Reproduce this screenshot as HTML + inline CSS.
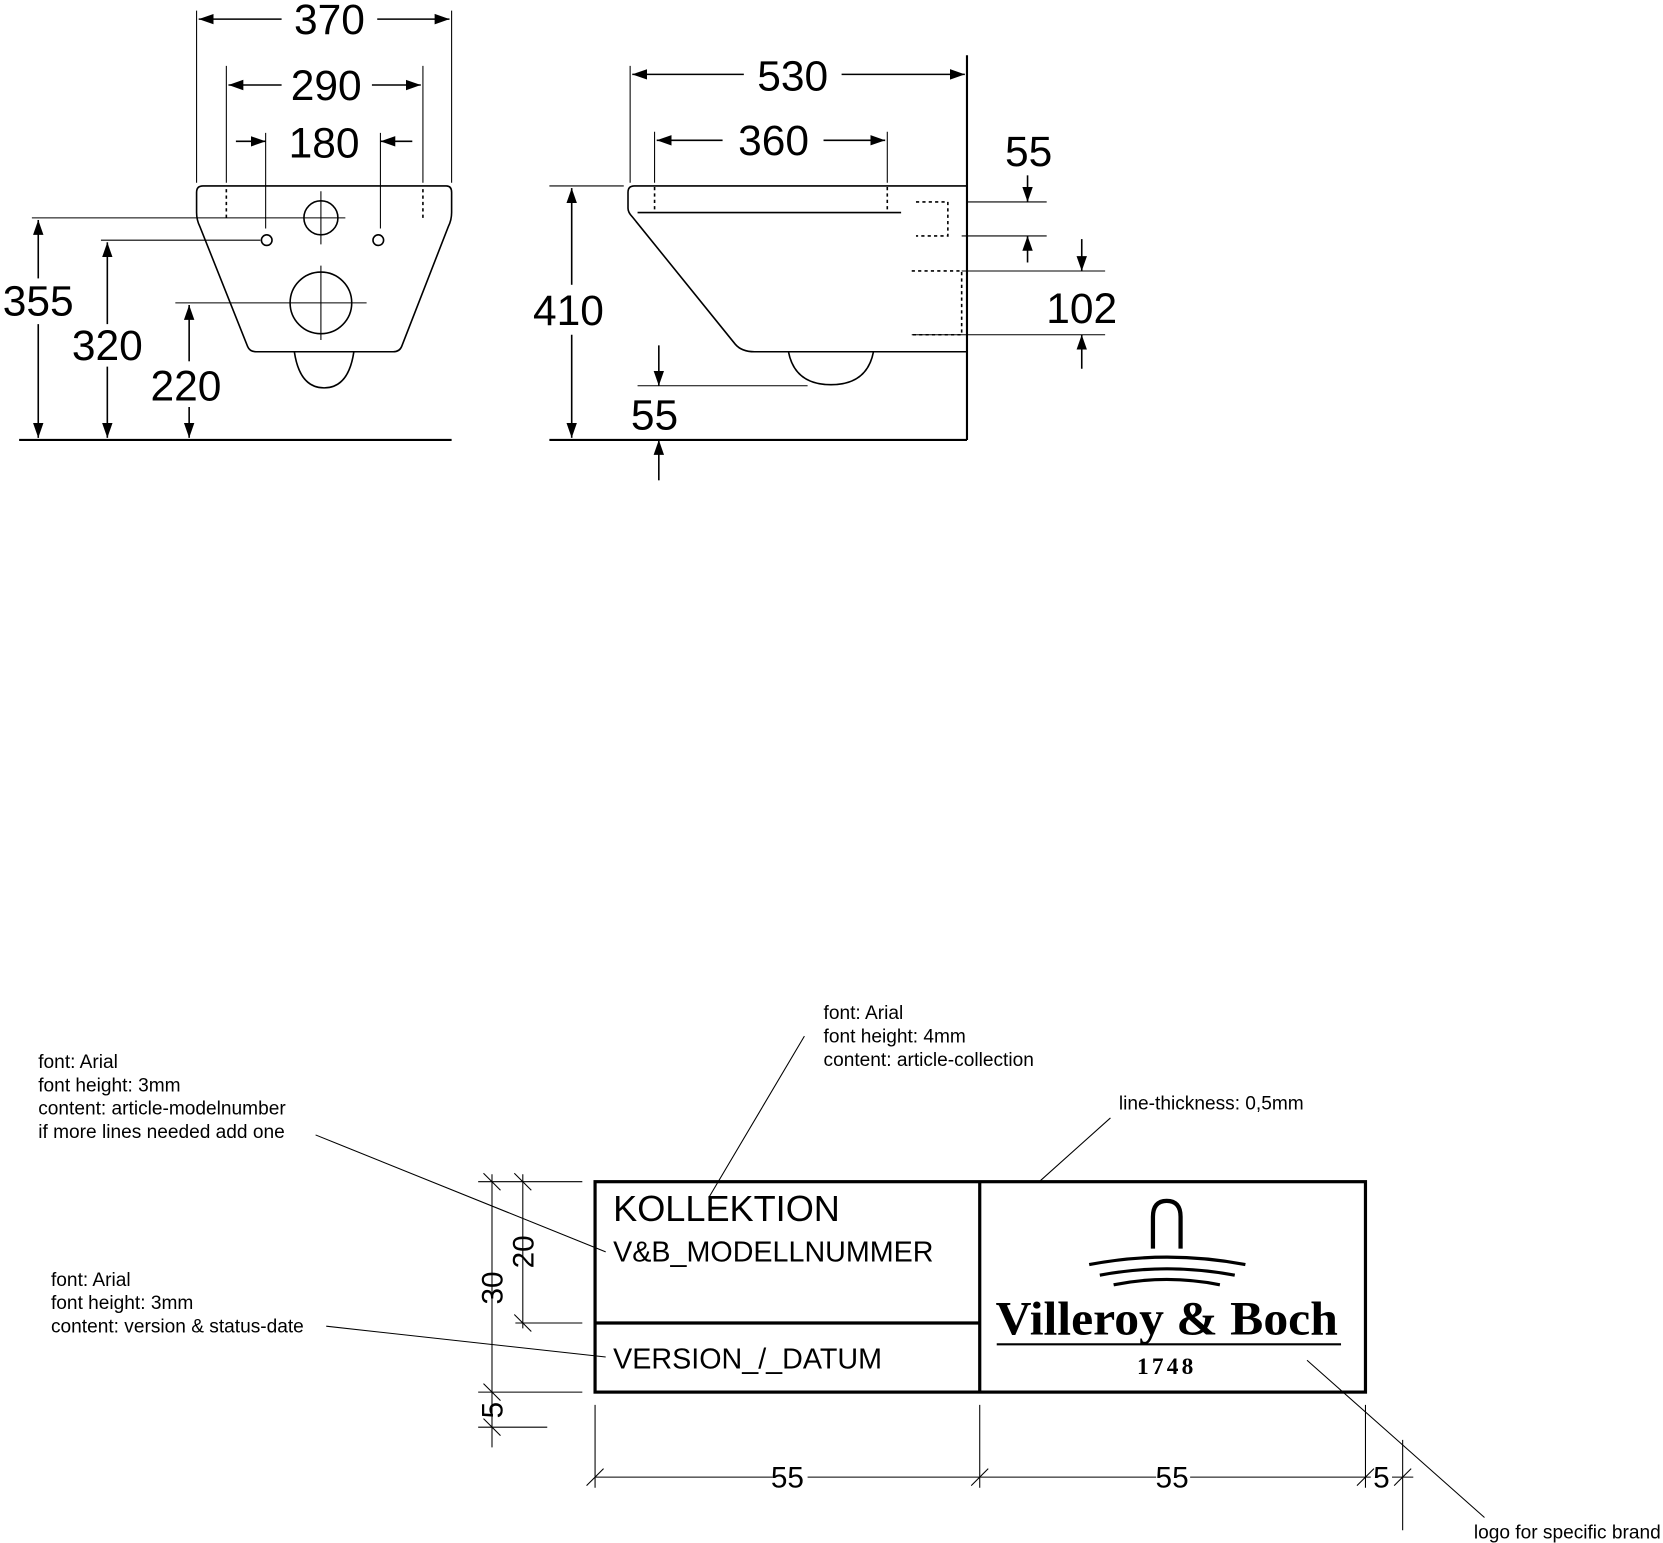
<!DOCTYPE html>
<html><head><meta charset="utf-8"><style>
html,body{margin:0;padding:0;background:#fff}
svg{display:block}
text{font-family:"Liberation Sans",Arial,sans-serif;fill:#000}
</style></head><body>
<svg width="1663" height="1543" viewBox="0 0 1565 1452" preserveAspectRatio="none" xmlns="http://www.w3.org/2000/svg">
<defs>
<marker id="a" viewBox="0 0 10 10" refX="10" refY="5" markerWidth="14" markerHeight="14" markerUnits="userSpaceOnUse" orient="auto"><path d="M0,1.5 L10,5 L0,8.5z"/></marker>
</defs>
<g fill="none" stroke="#000" stroke-width="1.5">
<path d="M191,175 H420 Q425,175 425,181 V200 Q425,207 422,213 L378,326 Q376,331 370,331 H241 Q235,331 233,326 L188,213 Q185,207 185,200 V181 Q185,175 191,175Z"/>
<path d="M277,331 Q282,365 305,365 Q328,365 333,331"/>
<circle cx="302" cy="205" r="16"/>
<circle cx="251" cy="226" r="5"/>
<circle cx="356" cy="226" r="5"/>
<circle cx="302" cy="285" r="29"/>
<path d="M302,180 V230 M302,250 V320" stroke-width="1"/>
<path d="M213,178 V205 M398,178 V205" stroke-dasharray="3,3"/>
<g stroke-width="1">
<path d="M185,10 V172 M425,10 V172 M213,62 V172 M398,62 V172 M250,125 V215 M358,125 V215"/>
<path d="M30,205 H325 M95,226 H245 M165,285 H345"/>
</g>
<path d="M18,414 H425" stroke-width="2"/>
<path d="M265,18 H187" marker-end="url(#a)"/><path d="M355,18 H423" marker-end="url(#a)"/>
<path d="M265,80 H215" marker-end="url(#a)"/><path d="M350,80 H396" marker-end="url(#a)"/>
<path d="M222,133 H250" marker-end="url(#a)"/><path d="M388,133 H358" marker-end="url(#a)"/>
<path d="M36,262 V207" marker-end="url(#a)"/><path d="M36,305 V412" marker-end="url(#a)"/>
<path d="M101,305 V228" marker-end="url(#a)"/><path d="M101,345 V412" marker-end="url(#a)"/>
<path d="M178,340 V287" marker-end="url(#a)"/><path d="M178,383 V412" marker-end="url(#a)"/>

<path d="M910,52 V414 M517,414 H910" stroke-width="2"/>
<path d="M910,175 H597 Q591,175 591,181 V196 Q591,200 595,204 L692,324 Q698,331 710,331 H910"/>
<path d="M600,200 H848"/>
<path d="M742,331 Q748,362 782,362 Q816,362 822,331"/>
<path d="M616,176 V200 M835,176 V200" stroke-dasharray="3,3"/>
<path d="M862,190 H892 V222 H862 M858,255 H905 V315 H858" stroke-dasharray="3,3"/>
<g stroke-width="1">
<path d="M593,62 V172 M616,124 V172 M835,124 V172"/>
<path d="M910,190 H985 M905,222 H985 M905,255 H1040 M858,315 H1040 M517,175 H587 M600,363 H760"/>
</g>
<path d="M700,70 H595" marker-end="url(#a)"/><path d="M792,70 H908" marker-end="url(#a)"/>
<path d="M680,132 H618" marker-end="url(#a)"/><path d="M775,132 H833" marker-end="url(#a)"/>
<path d="M967,165 V190" marker-end="url(#a)"/><path d="M967,247 V222" marker-end="url(#a)"/>
<path d="M1018,225 V255" marker-end="url(#a)"/><path d="M1018,347 V315" marker-end="url(#a)"/>
<path d="M538,268 V177" marker-end="url(#a)"/><path d="M538,315 V412" marker-end="url(#a)"/>
<path d="M620,325 V363" marker-end="url(#a)"/><path d="M620,452 V414" marker-end="url(#a)"/>

<rect x="560" y="1112" width="725" height="198" stroke-width="3"/>
<path d="M922,1112 V1310 M560,1245 H922" stroke-width="3"/>
<g stroke-width="1">
<path d="M463,1105 V1362 M492,1105 V1250"/>
<path d="M450,1112 H548 M485,1245 H548 M450,1310 H548 M450,1343 H515"/>
<path d="M455,1104 L471,1120 M484,1104 L500,1120 M484,1237 L500,1253 M455,1302 L471,1318 M455,1335 L471,1351"/>
<path d="M560,1322 V1400 M922,1322 V1400 M1285,1322 V1400 M1320,1355 V1440 M560,1390 H727 M760,1390 H1088 M1120,1390 H1290 M1310,1390 H1330"/>
<path d="M552,1398 L568,1382 M914,1398 L930,1382 M1277,1398 L1293,1382 M1312,1398 L1328,1382"/>
<path d="M667,1127 L757,975 M297,1068 L570,1178 M307,1248 L570,1277 M978,1112 L1045,1052 M1230,1280 L1397,1428"/>
</g>
<path d="M1085,1175 V1145 Q1085,1130 1098,1130 Q1111,1130 1111,1145 V1175" stroke-width="4"/>
<path d="M1025,1190 Q1098,1176 1172,1190" stroke-width="3"/>
<path d="M1035,1200 Q1098,1188 1162,1200" stroke-width="3"/>
<path d="M1048,1209 Q1098,1199 1148,1209" stroke-width="3"/>
<path d="M938,1265 H1262" stroke-width="2"/>
</g>
<g text-anchor="middle" font-size="40">
<text x="310" y="32">370</text><text x="307" y="94">290</text><text x="305" y="148">180</text>
<text x="36" y="297">355</text><text x="101" y="339">320</text><text x="175" y="377">220</text>
<text x="746" y="85">530</text><text x="728" y="146">360</text><text x="968" y="156">55</text>
<text x="1018" y="304">102</text><text x="535" y="306">410</text><text x="616" y="404">55</text>
</g>
<g font-size="34"><text x="577" y="1149">KOLLEKTION</text></g>
<g font-size="27"><text x="577" y="1187">V&amp;B_MODELLNUMMER</text><text x="577" y="1288">VERSION_/_DATUM</text></g>
<g font-size="28" text-anchor="middle">
<text transform="translate(473,1212) rotate(-90)">30</text>
<text transform="translate(502,1178) rotate(-90)">20</text>
<text transform="translate(473,1327) rotate(-90)">5</text>
<text x="741" y="1400">55</text><text x="1103" y="1400">55</text><text x="1300" y="1400">5</text>
</g>
<text x="1098" y="1256" text-anchor="middle" font-size="45" font-weight="bold" textLength="322" lengthAdjust="spacingAndGlyphs" style="font-family:'Liberation Serif',serif">Villeroy &amp; Boch</text>
<text x="1098" y="1293" text-anchor="middle" font-size="22" font-weight="bold" letter-spacing="3" style="font-family:'Liberation Serif',serif">1748</text>
<g font-size="18">
<text x="775" y="959">font: Arial</text><text x="775" y="981">font height: 4mm</text><text x="775" y="1003">content: article-collection</text>
<text x="36" y="1005">font: Arial</text><text x="36" y="1027">font height: 3mm</text><text x="36" y="1049">content: article-modelnumber</text><text x="36" y="1071">if more lines needed add one</text>
<text x="48" y="1210">font: Arial</text><text x="48" y="1232">font height: 3mm</text><text x="48" y="1254">content: version &amp; status-date</text>
<text x="1053" y="1044">line-thickness: 0,5mm</text>
<text x="1387" y="1448">logo for specific brand</text>
</g>
</svg>
</body></html>
